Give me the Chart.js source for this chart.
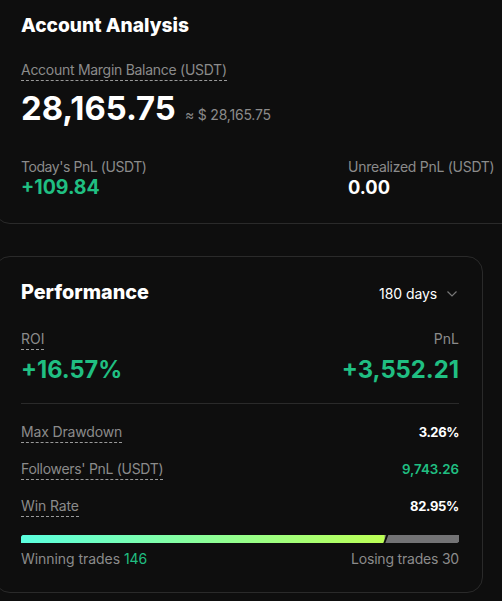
<!DOCTYPE html>
<html><head><meta charset="utf-8">
<script src="https://cdn.jsdelivr.net/npm/chart.js@4"></script>
<style>
html,body{margin:0;padding:0;background:#0e0e0e;width:502px;height:601px;overflow:hidden;font-family:Inter,"Noto Sans",sans-serif}
.t{position:absolute;white-space:nowrap;line-height:1}
.r{right:43px}
.g{color:#8b8b8b;font-size:14px}
.d{padding-bottom:3px;border-bottom:1px dashed #9a9a9a}
.up{color:#20bf82}.w{color:#fff}
.card{position:absolute;border:1px solid #2a2a2a;box-sizing:border-box}
#wrap{position:absolute;left:21px;top:535px;width:438px;height:8px}
</style></head><body>
<div class="card" style="left:-6px;top:-40px;width:560px;height:264px;border-radius:16px"></div>
<div class="card" style="left:-6px;top:256px;width:489px;height:337px;border-radius:16px"></div>
<div class="t w" style="left:21px;top:16px;font-size:19.2px;font-weight:800">Account Analysis</div>
<div class="t g d" style="left:21px;top:63px;letter-spacing:-.28px">Account Margin Balance (USDT)</div>
<div class="t w" style="left:21px;top:92px;font-size:32.8px;font-weight:700">28,165.75</div>
<div class="t g" style="left:185px;top:108px;letter-spacing:-.2px">≈ $ 28,165.75</div>
<div class="t g" style="left:21px;top:160px;letter-spacing:-.44px">Today's PnL (USDT)</div>
<div class="t up" style="left:21px;top:178px;font-size:19.5px;font-weight:700">+109.84</div>
<div class="t g" style="left:348px;top:160px;letter-spacing:-.28px">Unrealized PnL (USDT)</div>
<div class="t w" style="left:348px;top:178px;font-size:18.3px;font-weight:700">0.00</div>
<div class="t w" style="left:21px;top:283px;font-size:19.8px;font-weight:800">Performance</div>
<div class="t w" style="left:379px;top:287px;font-size:14px;letter-spacing:-.05px">180 days</div>
<svg style="position:absolute;left:446px;top:290px" width="12" height="9"><path d="M1.5 1.5 L6 6 L10.5 1.5" fill="none" stroke="#777" stroke-width="1.2"/></svg>
<div class="t g d" style="left:21px;top:332px">ROI</div>
<div class="t g r" style="top:332px">PnL</div>
<div class="t up" style="left:21px;top:358px;font-size:23.6px;font-weight:700">+16.57%</div>
<div class="t up r" style="top:358px;font-size:23.8px;font-weight:700">+3,552.21</div>
<div style="position:absolute;left:21px;top:403px;width:438px;height:1px;background:#2a2a2a"></div>
<div class="t g d" style="left:21px;top:425px;letter-spacing:-.15px">Max Drawdown</div>
<div class="t w r" style="top:426px;font-size:13px;font-weight:700;letter-spacing:-.4px">3.26%</div>
<div class="t g d" style="left:21px;top:462px;letter-spacing:-.3px">Followers' PnL (USDT)</div>
<div class="t up r" style="top:463px;font-size:13.3px;font-weight:600">9,743.26</div>
<div class="t g d" style="left:21px;top:499px;letter-spacing:-.12px">Win Rate</div>
<div class="t w r" style="top:500px;font-size:13px;font-weight:700;letter-spacing:-.3px">82.95%</div>
<div class="t g" style="left:21px;top:552px;letter-spacing:-.05px">Winning trades <span class="up">146</span></div>
<div class="t g r" style="top:552px;letter-spacing:-.2px">Losing trades 30</div>
<div id="wrap"><canvas id="c"></canvas></div>
<script>
const categories=["Trades"];
const winningTrades=[146];
const losingTrades=[30];
const slant={id:"slant",afterDatasetsDraw(ch){
  const x=ch.scales.x.getPixelForValue(winningTrades[0]),a=ch.chartArea,c=ch.ctx;
  c.save();c.fillStyle="#0e0e0e";c.beginPath();
  c.moveTo(x-1,a.bottom);c.lineTo(x+1,a.bottom);c.lineTo(x+4,a.top);c.lineTo(x+2,a.top);
  c.closePath();c.fill();c.restore();
}};
new Chart(document.getElementById("c"),{
  type:"bar",
  data:{labels:categories,datasets:[
    {label:"Winning trades",data:winningTrades,
     backgroundColor(ctx){
       const a=ctx.chart.chartArea;if(!a)return"#5fffdc";
       const g=ctx.chart.ctx.createLinearGradient(a.left,0,ctx.chart.scales.x.getPixelForValue(winningTrades[0]),0);
       g.addColorStop(0,"#5affdf");g.addColorStop(1,"#bcff55");return g;},
     borderRadius:{topLeft:6,topRight:0,bottomLeft:0,bottomRight:0},borderSkipped:false},
    {label:"Losing trades",data:losingTrades,backgroundColor:"#737375",
     borderRadius:{topLeft:0,topRight:0,bottomLeft:0,bottomRight:6},borderSkipped:false}
  ]},
  options:{indexAxis:"y",responsive:true,maintainAspectRatio:false,animation:false,
    layout:{padding:0},
    datasets:{bar:{barPercentage:1,categoryPercentage:1}},
    plugins:{legend:{display:false},tooltip:{enabled:false},title:{display:false}},
    scales:{x:{stacked:true,display:false,min:0,max:176},y:{stacked:true,display:false}}},
  plugins:[slant]
});
</script>
</body></html>
